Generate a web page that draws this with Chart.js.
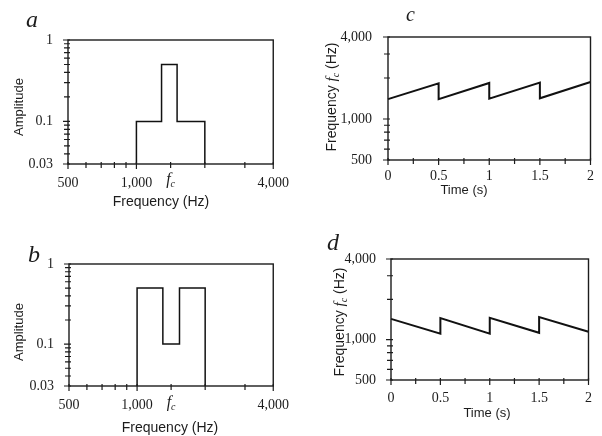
<!DOCTYPE html>
<html><head><meta charset="utf-8">
<script src="https://cdn.jsdelivr.net/npm/chart.js@4.4.1/dist/chart.umd.min.js"></script>
<style>
html,body{margin:0;padding:0;background:#fff;}
body{width:602px;height:436px;position:relative;overflow:hidden;}
canvas{position:absolute;display:block;}
</style></head><body>
<canvas id="ca" width="300" height="218" style="left:0;top:0"></canvas>
<canvas id="cb" width="300" height="216" style="left:0;top:220px"></canvas>
<canvas id="cc" width="302" height="218" style="left:300px;top:0"></canvas>
<canvas id="cd" width="302" height="216" style="left:300px;top:220px"></canvas>
<script>
// ---------- data ----------
const spectrumFreqA = [1000, 1000, 1290, 1290, 1510, 1510, 2000, 2000];
const spectrumAmpA  = [0.03, 0.1, 0.1, 0.5, 0.5, 0.1, 0.1, 0.03];
const spectrumFreqB = [1000, 1000, 1300, 1300, 1540, 1540, 2000, 2000];
const spectrumAmpB  = [0.03, 0.5, 0.5, 0.1, 0.1, 0.5, 0.5, 0.03];
const timeC = [0, 0.5, 0.5, 1, 1, 1.5, 1.5, 2];
const freqC = [1400, 1830, 1400, 1840, 1410, 1850, 1420, 1870];
const timeD = [0, 0.5, 0.5, 1, 1, 1.5, 1.5, 2];
const freqD = [1430, 1110, 1450, 1110, 1455, 1125, 1475, 1145];
const centreFreq = 1414;

const freqTickVals   = [500, 1000, 4000];
const freqTickLabels = ['500', '1,000', '4,000'];
const freqMinorTicks = [600, 700, 800, 900, 2000, 3000];
const ampTickVals    = [0.03, 0.1, 1];
const ampTickLabels  = ['0.03', '0.1', '1'];
const ampMinorTicks  = [0.04, 0.05, 0.06, 0.07, 0.08, 0.09, 0.2, 0.3, 0.4, 0.5, 0.6, 0.7, 0.8, 0.9];
const timeTickVals   = [0, 0.5, 1, 1.5, 2];
const timeTickLabels = ['0', '0.5', '1', '1.5', '2'];
const timeMinorTicks = [0.25, 0.75, 1.25, 1.75];
const fcTickVals     = [500, 1000, 4000];
const fcTickLabels   = ['500', '1,000', '4,000'];
const fcMinorTicks   = [600, 700, 800, 900, 2000, 3000];

// ---------- drawing ----------
const INK = '#1c1c1c';
const SERIF = '"Liberation Serif", "DejaVu Serif", serif';
const SANS = '"Liberation Sans", Arial, sans-serif';

function drawPieces(ctx, pieces, cx, baseY) {
  let total = 0;
  pieces.forEach(p => { ctx.font = p.font; p.w = ctx.measureText(p.t).width; total += p.w; });
  let x = cx - total / 2;
  ctx.textAlign = 'left';
  ctx.textBaseline = 'alphabetic';
  pieces.forEach(p => { ctx.font = p.font; ctx.fillText(p.t, x, baseY + (p.dy || 0)); x += p.w; });
}

const decor = {
  id: 'decor',
  afterDraw(chart, args, o) {
    const ctx = chart.ctx, a = chart.chartArea, xs = chart.scales.x, ys = chart.scales.y;
    ctx.save();
    ctx.strokeStyle = INK; ctx.fillStyle = INK;
    ctx.lineWidth = 1.4;
    ctx.strokeRect(a.left, a.top, a.right - a.left, a.bottom - a.top);
    ctx.lineWidth = 1.2;
    ctx.beginPath();
    o.xMajor.forEach(v => { const p = xs.getPixelForValue(v); ctx.moveTo(p, a.bottom - 2); ctx.lineTo(p, a.bottom + 5); });
    o.xMinor.forEach(v => { const p = xs.getPixelForValue(v); ctx.moveTo(p, a.bottom - 2); ctx.lineTo(p, a.bottom + 4); });
    o.yMajor.forEach(v => { const p = ys.getPixelForValue(v); ctx.moveTo(a.left - 5, p); ctx.lineTo(a.left + 2, p); });
    o.yMinor.forEach(v => { const p = ys.getPixelForValue(v); ctx.moveTo(a.left - 4, p); ctx.lineTo(a.left + 2, p); });
    ctx.stroke();
    // panel letter
    ctx.font = 'italic ' + o.letterSize + 'px ' + SERIF;
    ctx.textAlign = 'left'; ctx.textBaseline = 'alphabetic';
    ctx.fillText(o.letter, o.letterX, o.letterY);
    // x title
    ctx.font = o.xTitleSize + 'px ' + SANS;
    ctx.textAlign = 'center'; ctx.textBaseline = 'middle';
    ctx.fillText(o.xTitle, o.xTitleX, o.xTitleY);
    // y title (rotated)
    ctx.save();
    ctx.translate(o.yTitleX, o.yTitleY);
    ctx.rotate(-Math.PI / 2);
    if (o.yTitleFc) {
      drawPieces(ctx, [
        { t: 'Frequency ', font: '14px ' + SANS },
        { t: 'f', font: 'italic 15px ' + SERIF },
        { t: 'c', font: 'italic 10px ' + SERIF, dy: 3 },
        { t: ' (Hz)', font: '14px ' + SANS }
      ], 0, 5);
    } else {
      ctx.font = o.yTitleSize + 'px ' + SANS;
      ctx.textAlign = 'center'; ctx.textBaseline = 'middle';
      ctx.fillText(o.yTitle, 0, 0);
    }
    ctx.restore();
    // f_c marker on the frequency axis
    if (o.fc) {
      const p = xs.getPixelForValue(o.fc);
      ctx.beginPath(); ctx.moveTo(p, a.bottom - 2); ctx.lineTo(p, a.bottom + 4); ctx.stroke();
      drawPieces(ctx, [
        { t: 'f', font: 'italic 16px ' + SERIF },
        { t: 'c', font: 'italic 10px ' + SERIF, dy: 3 }
      ], p, o.fcY);
    }
    ctx.restore();
  }
};

function pts(xs, ys) { return xs.map((x, i) => ({ x: x, y: ys[i] })); }

function makeChart(id, cfg) {
  const el = document.getElementById(id);
  const W = el.width, H = el.height;
  return new Chart(el, {
    type: 'scatter',
    data: { datasets: [{
      data: pts(cfg.xData, cfg.yData),
      showLine: true, borderColor: '#111', borderWidth: cfg.lineWidth,
      pointRadius: 0, pointHoverRadius: 0, tension: 0, clip: false, fill: false
    }] },
    options: {
      responsive: false, animation: false, devicePixelRatio: 1,
      events: [],
      layout: { padding: { left: 0, top: cfg.area.top, right: W - cfg.area.right, bottom: 0 } },
      plugins: { legend: { display: false }, tooltip: { enabled: false }, decor: cfg.decor },
      scales: {
        x: {
          type: cfg.xType, min: cfg.xMin, max: cfg.xMax,
          grid: { display: false, drawTicks: false }, border: { display: false },
          afterFit: s => { s.height = H - cfg.area.bottom; },
          afterBuildTicks: s => { s.ticks = cfg.xTickVals.map(v => ({ value: v })); },
          ticks: {
            autoSkip: false, maxRotation: 0, minRotation: 0, padding: cfg.xPad, color: INK,
            font: { family: SERIF, size: 14 },
            callback: v => { const i = cfg.xTickVals.indexOf(v); return i >= 0 ? cfg.xTickLabels[i] : ''; }
          }
        },
        y: {
          type: 'logarithmic', min: cfg.yMin, max: cfg.yMax,
          grid: { display: false, drawTicks: false }, border: { display: false },
          afterFit: s => { s.width = cfg.area.left; },
          afterBuildTicks: s => { s.ticks = cfg.yTickVals.map(v => ({ value: v })); },
          ticks: {
            autoSkip: false, padding: cfg.yPad, color: INK,
            font: { family: SERIF, size: 14 },
            callback: v => { const i = cfg.yTickVals.indexOf(v); return i >= 0 ? cfg.yTickLabels[i] : ''; }
          }
        }
      }
    },
    plugins: [decor]
  });
}

makeChart('ca', {
  xData: spectrumFreqA, yData: spectrumAmpA, lineWidth: 1.5,
  area: { left: 68, right: 274, top: 40, bottom: 164 },
  xType: 'logarithmic', xMin: 500, xMax: 4000, yMin: 0.03, yMax: 1,
  xTickVals: freqTickVals, xTickLabels: freqTickLabels, yTickVals: ampTickVals, yTickLabels: ampTickLabels,
  xPad: 11, yPad: 15,
  decor: { xMajor: freqTickVals, xMinor: freqMinorTicks, yMajor: ampTickVals, yMinor: ampMinorTicks,
    letter: 'a', letterSize: 24, letterX: 26, letterY: 27,
    xTitle: 'Frequency (Hz)', xTitleSize: 14, xTitleX: 161, xTitleY: 202,
    yTitle: 'Amplitude', yTitleSize: 13, yTitleX: 19, yTitleY: 107,
    fc: centreFreq, fcY: 184 }
});
makeChart('cb', {
  xData: spectrumFreqB, yData: spectrumAmpB, lineWidth: 1.5,
  area: { left: 69, right: 275, top: 44, bottom: 166 },
  xType: 'logarithmic', xMin: 500, xMax: 4000, yMin: 0.03, yMax: 1,
  xTickVals: freqTickVals, xTickLabels: freqTickLabels, yTickVals: ampTickVals, yTickLabels: ampTickLabels,
  xPad: 11, yPad: 15,
  decor: { xMajor: freqTickVals, xMinor: freqMinorTicks, yMajor: ampTickVals, yMinor: ampMinorTicks,
    letter: 'b', letterSize: 24, letterX: 28, letterY: 42,
    xTitle: 'Frequency (Hz)', xTitleSize: 14, xTitleX: 170, xTitleY: 208,
    yTitle: 'Amplitude', yTitleSize: 13, yTitleX: 19, yTitleY: 112,
    fc: centreFreq, fcY: 187 }
});
makeChart('cc', {
  xData: timeC, yData: freqC, lineWidth: 2,
  area: { left: 88, right: 291, top: 37, bottom: 160 },
  xType: 'linear', xMin: 0, xMax: 2, yMin: 500, yMax: 4000,
  xTickVals: timeTickVals, xTickLabels: timeTickLabels, yTickVals: fcTickVals, yTickLabels: fcTickLabels,
  xPad: 8, yPad: 16,
  decor: { xMajor: timeTickVals, xMinor: timeMinorTicks, yMajor: fcTickVals, yMinor: fcMinorTicks,
    letter: 'c', letterSize: 20, letterX: 106, letterY: 21,
    xTitle: 'Time (s)', xTitleSize: 13, xTitleX: 164, xTitleY: 190,
    yTitleFc: true, yTitleX: 31, yTitleY: 97 }
});
makeChart('cd', {
  xData: timeD, yData: freqD, lineWidth: 2,
  area: { left: 91, right: 293, top: 39, bottom: 160 },
  xType: 'linear', xMin: 0, xMax: 2, yMin: 500, yMax: 4000,
  xTickVals: timeTickVals, xTickLabels: timeTickLabels, yTickVals: fcTickVals, yTickLabels: fcTickLabels,
  xPad: 10, yPad: 15,
  decor: { xMajor: timeTickVals, xMinor: timeMinorTicks, yMajor: fcTickVals, yMinor: fcMinorTicks,
    letter: 'd', letterSize: 24, letterX: 27, letterY: 30,
    xTitle: 'Time (s)', xTitleSize: 13, xTitleX: 187, xTitleY: 193,
    yTitleFc: true, yTitleX: 39, yTitleY: 102 }
});
</script>
</body></html>
